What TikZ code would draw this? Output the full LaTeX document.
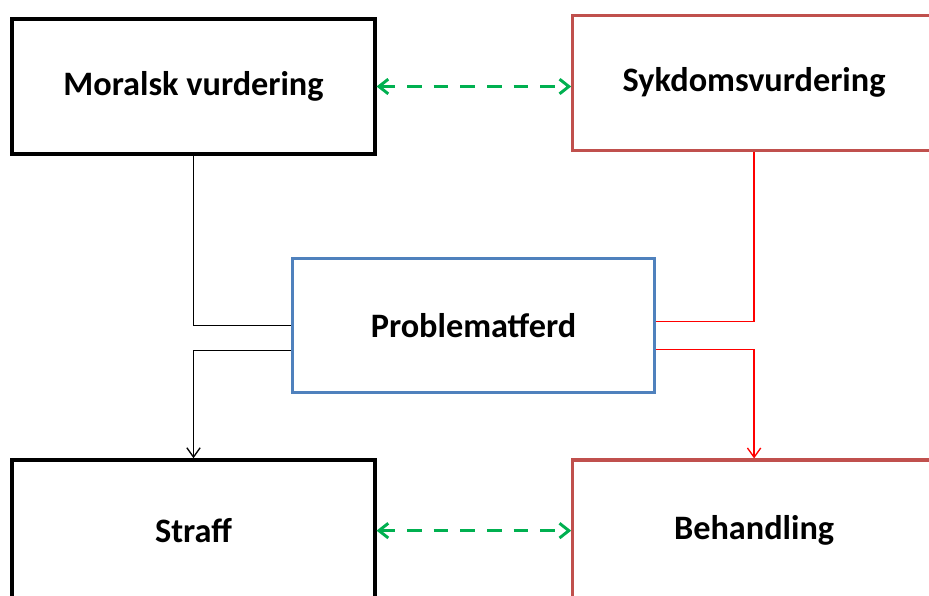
\documentclass[tikz,border=0pt]{standalone}
\usepackage{fontspec}
\setmainfont{Carlito}
\usetikzlibrary{calc, positioning}
\usetikzlibrary{arrows.meta}
\definecolor{sickred}{HTML}{C0504D}
\definecolor{problemblue}{HTML}{4F81BD}
\definecolor{pairgreen}{HTML}{00B050}
\tikzstyle{view-box}=[
rectangle,
draw,
minimum width=272pt,
minimum height=101pt,
font=\bfseries\fontsize{25.7}{30}\selectfont,
]
\tikzstyle{view-moral}=[
view-box,
line width=2.6pt,
draw=black,
]
\tikzstyle{view-sick}=[
view-box,
line width=2.3pt,
draw=sickred,
]
\tikzstyle{view-problem}=[
view-box,
line width=2.4pt,
draw=problemblue,
]
\tikzstyle{link-line}=[
line width=1pt,
]
\tikzstyle{link-arrow}=[
link-line,
-{Straight Barb[length=7pt,width=10pt]},
]
\tikzstyle{link-pair}=[
draw=pairgreen,
line width=2.2pt,
dash pattern=on 11pt off 9pt,
{Straight Barb[length=7pt,width=11pt]}-{Straight Barb[length=7pt,width=11pt]},
]

\begin{document}
\begin{tikzpicture}[x=0.75pt, y=-0.75pt]
        \clip (0,0) rectangle (929,596);

        \node[view-moral] (moral) at (193.5,86.5) {Moralsk vurdering};
        \node[view-sick, right=146pt of moral, yshift=2.8pt] (sick) {Sykdomsvurdering};
        \node[view-problem] (problem) at (473.5,325.5) {Problematferd};
        \node[view-moral, below=227pt of moral, minimum height=106pt] (punish) {Straff};
        \node[view-sick, right=146pt of punish, minimum height=106pt] (treat) {Behandling};

        % left side
        \draw[link-line] (moral.south) |- (problem.west);
        \draw[link-arrow] ($(problem.west)+(0,25)$) -| (punish.north);

        % right side
        \draw[link-line, red] (sick.south) |- ($(problem.east)+(0,-4)$);
        \draw[link-arrow, red] ($(problem.east)+(0,24)$) -| (treat.north);

        \draw[link-pair] (moral.east) -- (moral.east -| sick.west);
        \draw[link-pair] (punish.east) -- (punish.east -| treat.west);
      \end{tikzpicture}
\end{document}
